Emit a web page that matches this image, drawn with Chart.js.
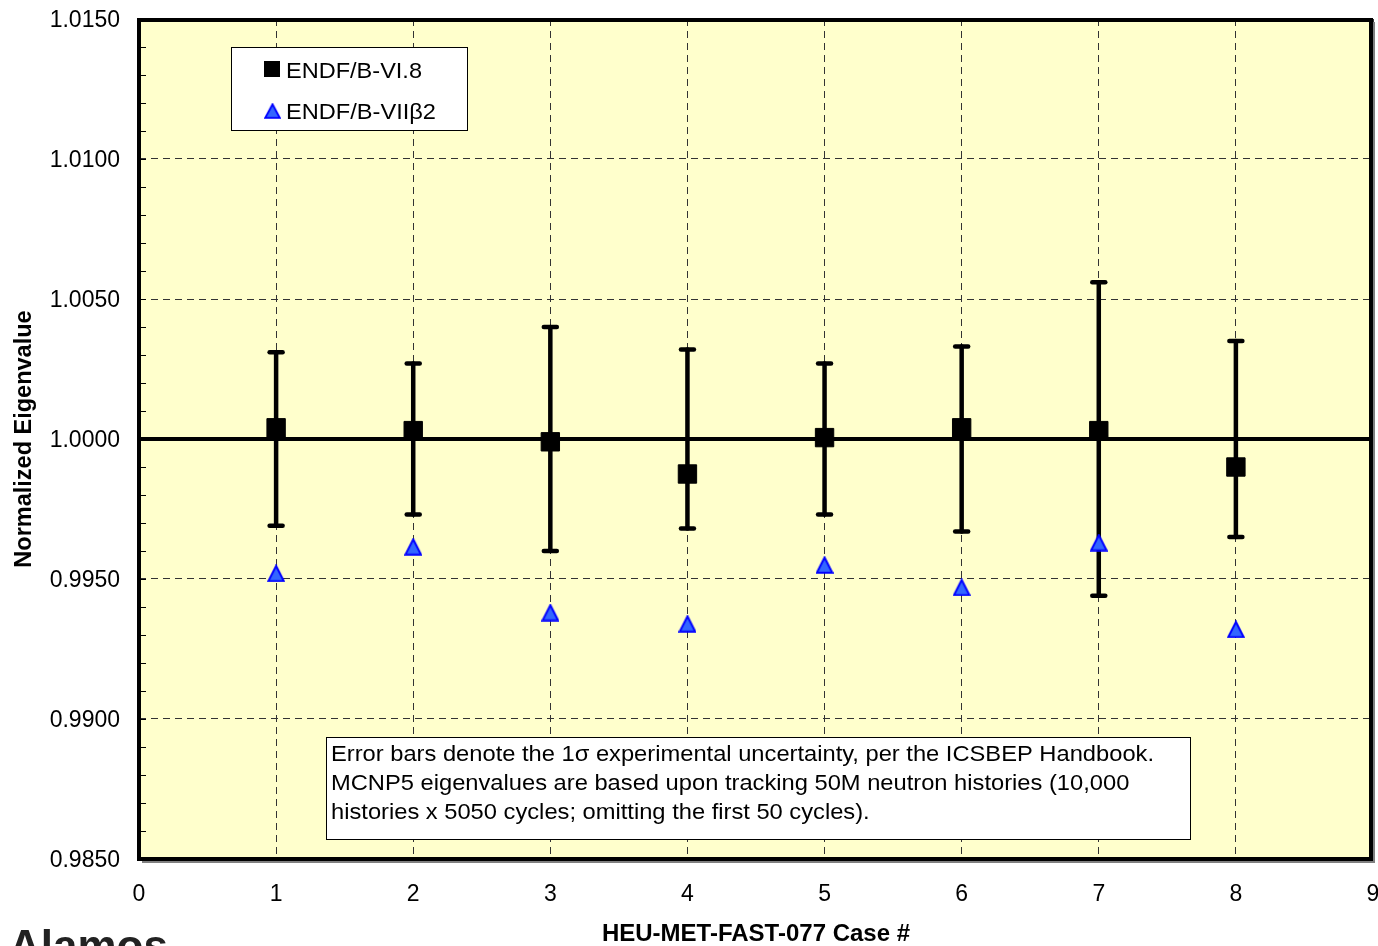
<!DOCTYPE html>
<html><head><meta charset="utf-8">
<script src="https://cdn.jsdelivr.net/npm/chart.js@4"></script>
<style>html,body{margin:0;padding:0;background:#fff;overflow:hidden}</style>
</head><body>
<canvas id="c" width="1378" height="946"></canvas>
<script>
// ---- data ----
const caseNumbers = [1, 2, 3, 4, 5, 6, 7, 8];
const endfB68 = [1.0004, 1.0003, 0.9999, 0.99875, 1.00005, 1.0004, 1.0003, 0.9990];
const endfB7b2 = [0.9952, 0.99615, 0.9938, 0.9934, 0.9955, 0.9947, 0.9963, 0.9932];
const expUncertainty = [0.0031, 0.0027, 0.0040, 0.0032, 0.0027, 0.0033, 0.0056, 0.0035];
const benchmarkValue = 1.0;
const yTickValues = [0.985, 0.990, 0.995, 1.000, 1.005, 1.010, 1.015];
const yMinorStep = 0.001;
const xTickValues = [0, 1, 2, 3, 4, 5, 6, 7, 8, 9];
const seriesNames = ['ENDF/B-VI.8', 'ENDF/B-VIIβ2'];
const xTitle = 'HEU-MET-FAST-077 Case #';
const yTitle = 'Normalized Eigenvalue';
const noteLines = [
  'Error bars denote the 1σ experimental uncertainty, per the ICSBEP Handbook.',
  'MCNP5 eigenvalues are based upon tracking 50M neutron histories (10,000',
  'histories x 5050 cycles; omitting the first 50 cycles).'
];
const logoText = 'Alamos';

// ---- styling ----
const FONT = "'Liberation Sans', Arial, Helvetica, sans-serif";
const PLOT_BG = '#FFFFCC';
const TRI_FILL = '#3366FF';
const TRI_EDGE = '#0000FF';

function makeTriangle(w, h) {
  const c = document.createElement('canvas');
  c.width = w; c.height = h;
  const g = c.getContext('2d');
  g.beginPath();
  g.moveTo(w / 2, 1.5);
  g.lineTo(w - 1.2, h - 1.2);
  g.lineTo(1.2, h - 1.2);
  g.closePath();
  g.fillStyle = TRI_FILL; g.fill();
  g.lineWidth = 2; g.strokeStyle = TRI_EDGE; g.lineJoin = 'miter'; g.stroke();
  return c;
}
const triImg = makeTriangle(18, 18);

function fitText(ctx, text, x, y, w) {
  const m = ctx.measureText(text).width;
  ctx.save(); ctx.translate(x, y); ctx.scale(w / m, 1); ctx.fillText(text, 0, 0); ctx.restore();
}

const decorPlugin = {
  id: 'decor',
  beforeDraw(chart) {
    const { ctx, chartArea: a } = chart;
    ctx.save();
    ctx.fillStyle = PLOT_BG;
    ctx.fillRect(a.left, a.top, a.right - a.left, a.bottom - a.top);
    ctx.restore();
  },
  beforeDatasetsDraw(chart) {
    const { ctx, chartArea: a } = chart;
    const xs = chart.scales.x, ys = chart.scales.y;
    ctx.save();
    // minor ticks on left edge (inside)
    ctx.strokeStyle = '#000'; ctx.lineWidth = 1;
    const n = Math.round((ys.max - ys.min) / yMinorStep);
    for (let i = 1; i < n; i++) {
      const py = Math.round(ys.getPixelForValue(ys.min + i * yMinorStep)) + 0.5;
      ctx.beginPath(); ctx.moveTo(a.left, py); ctx.lineTo(a.left + 7, py); ctx.stroke();
    }
    // error bars around the benchmark value
    ctx.strokeStyle = '#000'; ctx.lineWidth = 4.5; ctx.lineCap = 'round';
    caseNumbers.forEach((c, i) => {
      const px = xs.getPixelForValue(c);
      const top = ys.getPixelForValue(benchmarkValue + expUncertainty[i]);
      const bot = ys.getPixelForValue(benchmarkValue - expUncertainty[i]);
      ctx.beginPath(); ctx.moveTo(px, top); ctx.lineTo(px, bot); ctx.stroke();
      ctx.beginPath(); ctx.moveTo(px - 6.5, top); ctx.lineTo(px + 6.5, top); ctx.stroke();
      ctx.beginPath(); ctx.moveTo(px - 6.5, bot); ctx.lineTo(px + 6.5, bot); ctx.stroke();
    });
    ctx.restore();
  },
  afterDatasetsDraw(chart) {
    const { ctx, chartArea: a } = chart;
    ctx.save();
    // legend box
    ctx.fillStyle = '#fff'; ctx.fillRect(231.5, 47.5, 236, 83);
    ctx.strokeStyle = '#000'; ctx.lineWidth = 1; ctx.strokeRect(231.5, 47.5, 236, 83);
    ctx.fillStyle = '#000'; ctx.fillRect(264, 61, 16, 16);
    ctx.drawImage(triImg, 264, 103, 17, 16);
    ctx.fillStyle = '#000'; ctx.font = '22.5px ' + FONT; ctx.textBaseline = 'alphabetic'; ctx.textAlign = 'left';
    fitText(ctx, seriesNames[0], 286, 77.5, 136);
    fitText(ctx, seriesNames[1], 286, 118.5, 150);
    // note box
    ctx.fillStyle = '#fff'; ctx.fillRect(326.5, 737.5, 864, 102);
    ctx.strokeStyle = '#000'; ctx.lineWidth = 1; ctx.strokeRect(326.5, 737.5, 864, 102);
    ctx.fillStyle = '#000'; ctx.font = '22.5px ' + FONT;
    const sx = 823 / ctx.measureText(noteLines[0]).width;
    noteLines.forEach((t, i) => {
      ctx.save(); ctx.translate(331, 761 + i * 29); ctx.scale(sx, 1); ctx.fillText(t, 0, 0); ctx.restore();
    });
    // plot frame with shadow
    ctx.strokeStyle = '#808080'; ctx.lineWidth = 2;
    ctx.beginPath();
    ctx.moveTo(a.right + 1, a.top + 3); ctx.lineTo(a.right + 1, a.bottom + 3); ctx.lineTo(a.left + 3, a.bottom + 3);
    ctx.stroke();
    ctx.strokeStyle = '#000'; ctx.lineWidth = 4;
    ctx.strokeRect(a.left, a.top + 1, a.right - a.left - 2, a.bottom - a.top - 1);
    // logo fragment
    ctx.fillStyle = '#222'; ctx.font = 'bold 44px ' + FONT;
    ctx.fillText(logoText, 9, 961);
    ctx.restore();
  }
};

const refLine = [{ x: xTickValues[0], y: benchmarkValue }, { x: xTickValues[xTickValues.length - 1], y: benchmarkValue }];

new Chart(document.getElementById('c'), {
  type: 'scatter',
  data: {
    datasets: [
      {
        label: seriesNames[1],
        data: caseNumbers.map((c, i) => ({ x: c, y: endfB7b2[i] })),
        pointStyle: triImg,
        pointRadius: 9,
        backgroundColor: TRI_FILL, borderColor: TRI_EDGE
      },
      {
        label: seriesNames[0],
        data: caseNumbers.map((c, i) => ({ x: c, y: endfB68[i] })),
        pointStyle: 'rect',
        pointRadius: 13,
        backgroundColor: '#000', borderColor: '#000', borderWidth: 1
      },
      {
        type: 'line',
        label: 'benchmark',
        data: refLine,
        borderColor: '#000', borderWidth: 4, pointRadius: 0, fill: false
      }
    ]
  },
  options: {
    responsive: false,
    animation: false,
    devicePixelRatio: 1,
    layout: { autoPadding: false, padding: { top: 19, right: 5, left: 0, bottom: 0 } },
    plugins: { legend: { display: false }, tooltip: { enabled: false } },
    scales: {
      x: {
        type: 'linear', min: 0, max: 9,
        afterBuildTicks: s => { s.ticks = xTickValues.map(v => ({ value: v })); },
        afterFit: s => { s.height = 87; s.paddingLeft = 0; s.paddingRight = 0; },
        ticks: { color: '#000', font: { family: FONT, size: 23 }, padding: 22, callback: v => String(v), maxRotation: 0 },
        grid: { color: '#333', lineWidth: 1, drawTicks: false },
        border: { display: false, dash: [7, 5] },
        title: { display: true, text: xTitle, color: '#000', font: { family: FONT, size: 24, weight: 'bold', lineHeight: 1.0 }, padding: { top: 0, bottom: 0 } }
      },
      y: {
        min: 0.985, max: 1.015,
        afterBuildTicks: s => { s.ticks = yTickValues.map(v => ({ value: v })); },
        afterFit: s => { s.width = 139; s.paddingTop = 0; s.paddingBottom = 0; },
        ticks: { color: '#000', font: { family: FONT, size: 23 }, padding: 19, labelOffset: 1.5, callback: v => v.toFixed(4) },
        grid: { color: '#333', lineWidth: 1, drawTicks: false },
        border: { display: false, dash: [7, 5] },
        title: { display: true, text: yTitle, color: '#000', font: { family: FONT, size: 23.5, weight: 'bold' }, padding: { top: 10, bottom: 0 } }
      }
    }
  },
  plugins: [decorPlugin]
});
</script>
</body></html>
